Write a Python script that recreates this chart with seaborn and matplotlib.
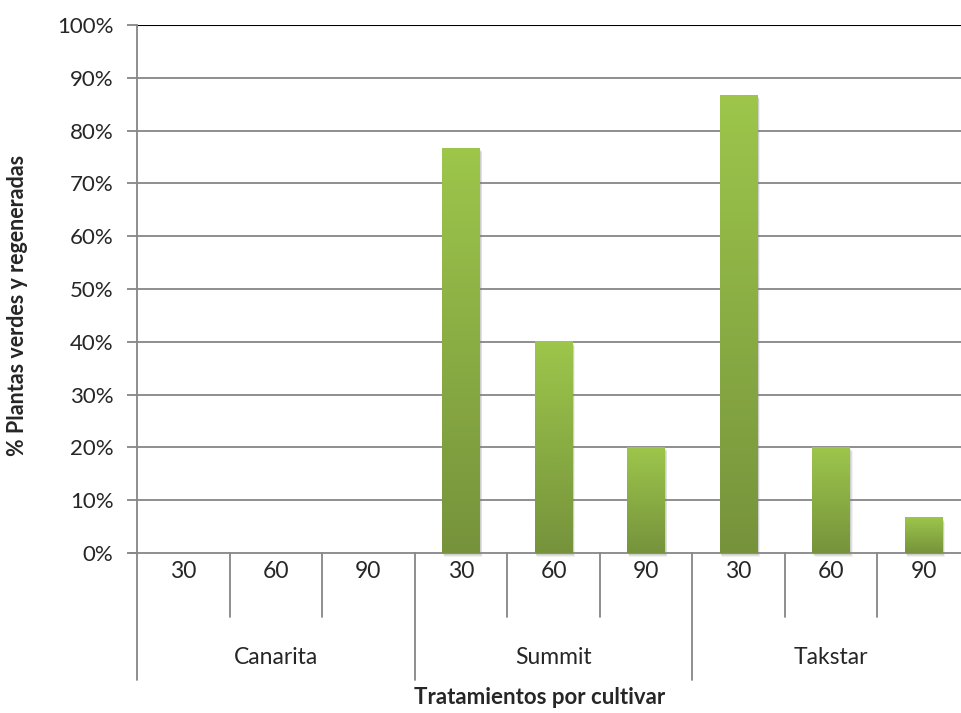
import numpy as np
import pandas as pd
import matplotlib
matplotlib.use("Agg")
import matplotlib.pyplot as plt
import matplotlib.ticker as mticker
from matplotlib.colors import LinearSegmentedColormap
from matplotlib.patches import Rectangle
import matplotlib.transforms as mtransforms
import seaborn as sns

# data
cultivares = ["Canarita", "Summit", "Takstar"]
tratamientos = ["30", "60", "90"]
canarita = [0.0, 0.0, 0.0]
summit = [0.7667, 0.40, 0.20]
takstar = [0.8667, 0.20, 0.0667]
yticks = [0.0, 0.1, 0.2, 0.3, 0.4, 0.5, 0.6, 0.7, 0.8, 0.9, 1.0]

rows = []
for cult, vals in zip(cultivares, [canarita, summit, takstar]):
    for trat, v in zip(tratamientos, vals):
        rows.append({"cultivar": cult, "tratamiento": trat, "valor": v,
                     "key": f"{cult}-{trat}"})
df = pd.DataFrame(rows)
order = list(df["key"])

sns.set_style("white")
plt.rcParams["font.family"] = ["Lato", "DejaVu Sans"]

W, H = 962, 713
fig = plt.figure(figsize=(W / 100, H / 100), dpi=100)
# plot area runs past the right edge of the picture, as in the original
left, right, top, bottom = 137, 970, 25, 553
ax = fig.add_axes([left / W, 1 - bottom / H, (right - left) / W, (bottom - top) / H])

sns.barplot(data=df, x="key", y="valor", order=order, color="#8fb745",
            width=0.41, ax=ax, zorder=3)

grey = "#868686"
ax.set_ylim(0, 1)
ax.set_xlim(-0.5, len(order) - 0.5)
ax.set_yticks(yticks)
ax.yaxis.set_major_formatter(mticker.PercentFormatter(1.0, decimals=0))
ax.tick_params(axis="y", length=7, width=1.3, color=grey, labelsize=16, pad=10,
               left=True)
ax.tick_params(axis="x", length=0, labelbottom=False)
for y in yticks[1:-1]:
    ax.axhline(y, color=grey, lw=1.3, zorder=1)
ax.axhline(1.0, color="black", lw=1.5, zorder=1)
for s in ["top", "right"]:
    ax.spines[s].set_visible(False)
ax.spines["left"].set_color(grey)
ax.spines["left"].set_linewidth(1.3)
ax.spines["bottom"].set_color(grey)
ax.spines["bottom"].set_linewidth(1.3)
ax.set_xlabel("")
ax.set_ylabel("")

# gradient fill for the bars + soft shadow
cmap = LinearSegmentedColormap.from_list("verde", ["#76933c", "#9dc64b"])
grad = np.linspace(0, 1, 256).reshape(-1, 1)
px_x = 1 / 92.6
px_y = 1 / 528
for p in list(ax.patches):
    h = p.get_height()
    if h <= 0:
        p.set_visible(False)
        continue
    x0 = p.get_x()
    w = p.get_width()
    for k, a in [(4, 0.10), (3, 0.14), (2, 0.18)]:
        ax.add_patch(Rectangle((x0 + k * px_x * 0.6, -k * px_y), w, h,
                               facecolor="#7f7f7f", edgecolor="none",
                               alpha=a, zorder=2, clip_on=False))
    ax.imshow(grad, extent=[x0, x0 + w, 0, h], origin="lower", cmap=cmap,
              aspect="auto", zorder=4, interpolation="bilinear")
    p.set_visible(False)
ax.set_xlim(-0.5, len(order) - 0.5)
ax.set_ylim(0, 1)

# multi-level category axis
trans = mtransforms.blended_transform_factory(ax.transData, ax.transAxes)
inner = -64 / 528
outer = -127 / 528
for i in range(len(order) + 1):
    xb = i - 0.5
    y_end = outer if i % 3 == 0 else inner
    ax.plot([xb, xb], [0, y_end], color=grey, lw=1.3, transform=trans,
            clip_on=False)
ax.plot([-0.5 - 7 * px_x, -0.5], [0, 0], color=grey, lw=1.3, transform=trans,
        clip_on=False)
for i, trat in enumerate(df["tratamiento"]):
    ax.text(i, -19 / 528, trat, transform=trans, ha="center", va="center",
            fontsize=16.5)
for g, cult in enumerate(cultivares):
    ax.text(g * 3 + 1, -105 / 528, cult, transform=trans, ha="center",
            va="center", fontsize=16.5)

fig.text(540 / W, 1 - 697 / H, "Tratamientos por cultivar", ha="center",
         va="center", fontsize=16, fontweight="bold")
fig.text(18 / W, 1 - 305 / H, "% Plantas verdes y regeneradas", ha="center",
         va="center", rotation=90, fontsize=15.5, fontweight="bold")

fig.savefig("out.png", dpi=100)
